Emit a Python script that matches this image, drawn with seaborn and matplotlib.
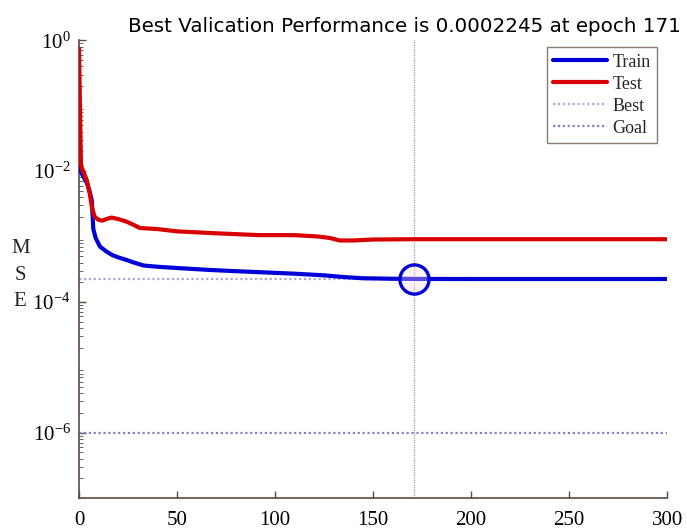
import matplotlib
matplotlib.use("Agg")
import matplotlib.pyplot as plt
import seaborn as sns
import pandas as pd
import numpy as np
from matplotlib.ticker import LogLocator, FixedLocator, NullFormatter

# ---- data ----
train_epochs = [0, 0.5, 2, 4, 5.5, 6.5, 7.3, 8.5, 10.7, 14, 17, 20, 24, 28, 33, 40, 50, 65, 80, 92, 110, 125, 135, 145, 160, 171, 200, 250, 300]
train_mse = [1.2e-2, 1.05e-2, 8.5e-3, 6.6e-3, 4.8e-3, 3.6e-3, 1.3e-3, 9.5e-4, 7.0e-4, 5.9e-4, 5.2e-4, 4.8e-4, 4.4e-4, 4.0e-4, 3.6e-4, 3.45e-4, 3.3e-4, 3.1e-4, 2.95e-4, 2.85e-4, 2.7e-4, 2.55e-4, 2.4e-4, 2.3e-4, 2.26e-4, 2.245e-4, 2.24e-4, 2.24e-4, 2.24e-4]

test_epochs = [0, 1, 1.5, 4, 5.5, 6.6, 8, 10, 12, 14, 16.5, 20, 24, 28, 31, 40, 50, 70, 92, 110, 122, 128, 133, 140, 150, 171, 200, 250, 300]
test_mse = [0.75, 1.3e-2, 1.1e-2, 7.3e-3, 4.5e-3, 2.8e-3, 2.0e-3, 1.8e-3, 1.75e-3, 1.85e-3, 1.95e-3, 1.85e-3, 1.7e-3, 1.5e-3, 1.35e-3, 1.3e-3, 1.2e-3, 1.12e-3, 1.05e-3, 1.05e-3, 1.0e-3, 9.5e-4, 8.7e-4, 8.7e-4, 9.0e-4, 9.1e-4, 9.1e-4, 9.1e-4, 9.1e-4]

best_epoch = 171
best_value = 0.0002245
goal_value = 1e-6
x_ticks = [0, 50, 100, 150, 200, 250, 300]
y_ticks = [1e0, 1e-2, 1e-4, 1e-6]
y_tick_labels = ["10$^{0}$", "10$^{-2}$", "10$^{-4}$", "10$^{-6}$"]
title = "Best Valication Performance is 0.0002245 at epoch 171"

sns.set_style("ticks")
plt.rcParams["font.family"] = ["Liberation Serif", "DejaVu Serif"]
plt.rcParams["mathtext.fontset"] = "custom"
plt.rcParams["mathtext.rm"] = "Liberation Serif"
plt.rcParams["mathtext.it"] = "Liberation Serif"

fig = plt.figure(figsize=(6.87, 5.31), dpi=100)
ax = fig.add_axes([0.115, 0.062, 0.856, 0.862])

train_df = pd.DataFrame({"epoch": train_epochs, "mse": train_mse})
test_df = pd.DataFrame({"epoch": test_epochs, "mse": test_mse})

ax.set_yscale("log")
sns.lineplot(data=train_df, x="epoch", y="mse", ax=ax, color="#0000d8", lw=3, label="Train", zorder=4)
sns.lineplot(data=test_df, x="epoch", y="mse", ax=ax, color="#d80000", lw=3, label="Test", zorder=4)

best_df = pd.DataFrame({"epoch": [0, 300], "mse": [best_value, best_value]})
goal_df = pd.DataFrame({"epoch": [0, 300], "mse": [goal_value, goal_value]})
sns.lineplot(data=best_df, x="epoch", y="mse", ax=ax, color="#b0a8dc", lw=1.6, ls=(0, (1, 1.2)), label="Best", zorder=2)
sns.lineplot(data=goal_df, x="epoch", y="mse", ax=ax, color="#8880c4", lw=1.6, ls=(0, (1, 1.2)), label="Goal", zorder=2)
ax.axvline(best_epoch, color="#a09898", lw=0.9, ls=(0, (1, 1)), zorder=1)
sns.scatterplot(x=[best_epoch], y=[best_value], ax=ax, s=440, facecolor=(0.98, 0.85, 0.95, 0.35),
                edgecolor="#0000d8", linewidth=2.4, zorder=5, legend=False)

ax.set_xlim(0, 300)
ax.set_ylim(1e-7, 1.0)
ax.set_xticks(x_ticks)
ax.set_xticklabels([str(t) for t in x_ticks], fontsize=15)
ax.yaxis.set_major_locator(FixedLocator(y_ticks))
ax.set_yticklabels(y_tick_labels, fontsize=15)
ax.yaxis.set_minor_locator(LogLocator(base=10, subs=np.arange(2, 10)))
ax.yaxis.set_minor_formatter(NullFormatter())
ax.tick_params(axis="both", direction="in", colors="#5a4a40", labelcolor="black", length=5, width=1)
ax.tick_params(axis="y", which="minor", direction="in", length=3, color="#5a4a40")
ax.tick_params(axis="x", pad=9)
ax.tick_params(axis="y", pad=6)

for s in ["top", "right"]:
    ax.spines[s].set_visible(False)
for s in ["left", "bottom"]:
    ax.spines[s].set_color("#5a4a40")
    ax.spines[s].set_linewidth(1.2)

ax.set_xlabel("")
ax.set_ylabel("M\nS\nE", rotation=0, fontsize=15, va="center", linespacing=1.55)
ax.yaxis.set_label_coords(-0.10, 0.487)
ax.set_title(title, fontsize=14.3, family=["DejaVu Sans"], color="black", x=0.553, pad=6)

leg = ax.legend(loc="upper right", bbox_to_anchor=(0.983, 0.985), borderaxespad=0, fontsize=13, frameon=True,
                fancybox=False, handlelength=3.0, borderpad=0.35, labelspacing=0.28, handletextpad=0.3)
leg.get_frame().set_edgecolor("#6a5a50")
leg.get_frame().set_linewidth(1.0)

fig.savefig("out.png", dpi=100)
